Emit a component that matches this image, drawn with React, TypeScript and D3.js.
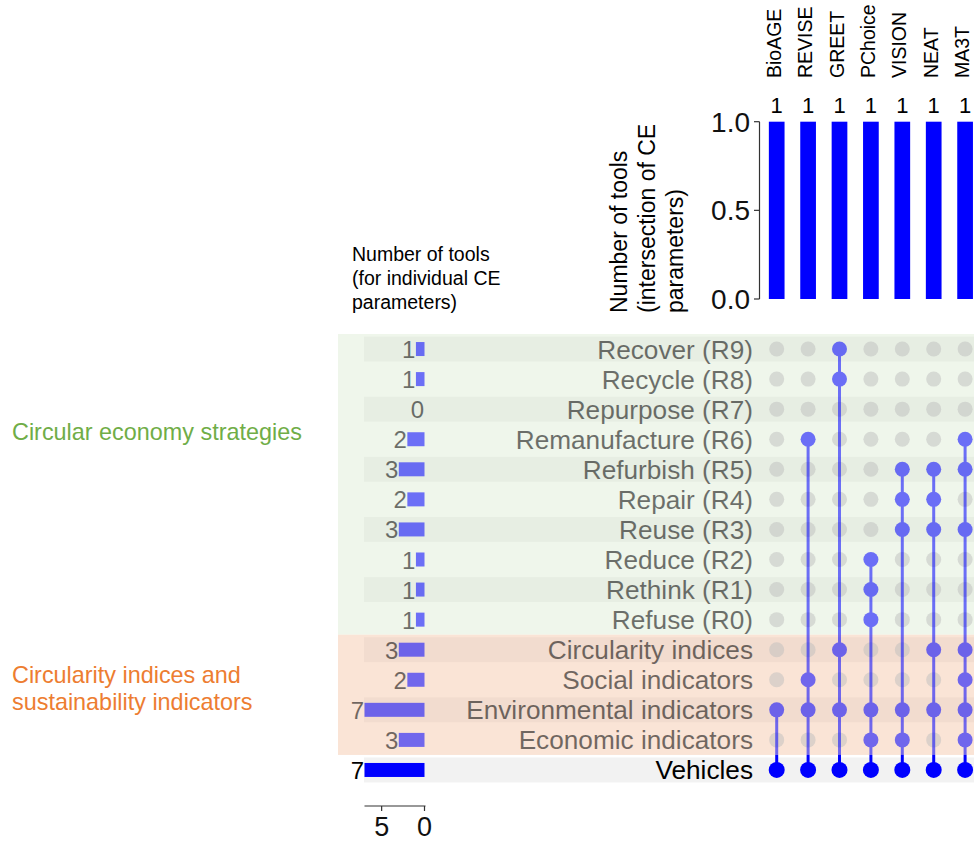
import React from 'react';
import * as d3 from 'd3';

// Tools (intersections) and their sizes
const tools = ['BioAGE', 'REVISE', 'GREET', 'PChoice', 'VISION', 'NEAT', 'MA3T'];
const toolCounts = [1, 1, 1, 1, 1, 1, 1];

// CE parameters, grouped
const strategyParams = [
  'Recover (R9)', 'Recycle (R8)', 'Repurpose (R7)', 'Remanufacture (R6)', 'Refurbish (R5)',
  'Repair (R4)', 'Reuse (R3)', 'Reduce (R2)', 'Rethink (R1)', 'Refuse (R0)',
];
const indicatorParams = ['Circularity indices', 'Social indicators', 'Environmental indicators', 'Economic indicators'];
const baseParam = 'Vehicles';
const parameters = [...strategyParams, ...indicatorParams, baseParam];

// Number of tools covering each individual parameter
const parameterTotals = [1, 1, 0, 2, 3, 2, 3, 1, 1, 1, 3, 2, 7, 3, 7];

// Parameters covered by each tool
const toolMembers: string[][] = [
  ['Environmental indicators', 'Vehicles'],
  ['Remanufacture (R6)', 'Social indicators', 'Environmental indicators', 'Vehicles'],
  ['Recover (R9)', 'Recycle (R8)', 'Circularity indices', 'Environmental indicators', 'Vehicles'],
  ['Reduce (R2)', 'Rethink (R1)', 'Refuse (R0)', 'Environmental indicators', 'Economic indicators', 'Vehicles'],
  ['Refurbish (R5)', 'Repair (R4)', 'Reuse (R3)', 'Environmental indicators', 'Economic indicators', 'Vehicles'],
  ['Refurbish (R5)', 'Repair (R4)', 'Reuse (R3)', 'Circularity indices', 'Environmental indicators', 'Vehicles'],
  ['Remanufacture (R6)', 'Refurbish (R5)', 'Reuse (R3)', 'Circularity indices', 'Social indicators',
    'Environmental indicators', 'Economic indicators', 'Vehicles'],
];

const topTicks = [0, 0.5, 1.0];
const sideTicks = [5, 0];

const FONT = '"Liberation Sans", Arial, Helvetica, sans-serif';
const W = 974;
const H = 843;

export default function App() {
  const y = d3.scaleBand<string>().domain(parameters).range([334, 785]).padding(0);
  const yc = (p: string) => (y(p) as number) + y.bandwidth() / 2;
  const step = y.step();

  const x = d3.scaleBand<string>().domain(tools).range([761, 761 + 7 * 31.4]).padding(0);
  const xc = (t: string) => (x(t) as number) + x.bandwidth() / 2;

  const yTop = d3.scaleLinear().domain([0, 1]).range([299, 121.7]);
  const xSide = d3.scaleLinear().domain([0, 7]).range([424.5, 364.5]);

  const greenTop = y(strategyParams[0]) as number;
  const greenBottom = (y(strategyParams[strategyParams.length - 1]) as number) + step;
  const orangeTop = y(indicatorParams[0]) as number;
  const orangeBottom = (y(indicatorParams[indicatorParams.length - 1]) as number) + step;
  const baseTop = y(baseParam) as number;

  const barW = x.bandwidth() * 0.5;
  const sideBarH = 14;
  const dotR = 7.5;

  const isBase = (p: string) => p === baseParam;

  return (
    <svg width={W} height={H} style={{ position: 'absolute', left: 0, top: 0, fontFamily: FONT }}>
      <rect x={0} y={0} width={W} height={H} fill="#ffffff" />

      {/* group backgrounds */}
      <rect x={338} y={greenTop} width={W - 338} height={greenBottom - greenTop} fill="#eff6eb" />
      <rect x={338} y={orangeTop} width={W - 338} height={orangeBottom - orangeTop} fill="#fae4d6" />

      {/* alternating row shading */}
      {parameters.map((p, i) =>
        i % 2 === 0 ? (
          <rect key={'s' + p} x={364} y={yc(p) - 12.5} width={W - 364} height={25} fill="#000"
            opacity={isBase(p) ? 0.05 : 0.03} />
        ) : null
      )}

      {/* group titles */}
      <text x={12} y={440} fontSize={23.4} fill="#70ad47">Circular economy strategies</text>
      <text x={12} y={683} fontSize={23.4} fill="#ed7d31">Circularity indices and</text>
      <text x={12} y={710} fontSize={23.4} fill="#ed7d31">sustainability indicators</text>

      {/* side bar chart title */}
      <g fontSize={19.5} fill="#000">
        <text x={352} y={261}>Number of tools</text>
        <text x={352} y={285}>(for individual CE</text>
        <text x={352} y={309}>parameters)</text>
      </g>

      {/* side bars */}
      {parameters.map((p, i) => {
        const v = parameterTotals[i];
        const x0 = xSide(v);
        return (
          <g key={'b' + p}>
            <rect x={x0} y={yc(p) - sideBarH / 2} width={xSide(0) - x0} height={sideBarH}
              fill="#0000ff" opacity={isBase(p) ? 1 : 0.55} />
            <text x={x0 - 0.5} y={yc(p) + 9} fontSize={24} textAnchor="end"
              fill="#000" opacity={isBase(p) ? 1 : 0.55}>{v}</text>
          </g>
        );
      })}

      {/* side axis */}
      <g stroke="#333" strokeWidth={1.2} fill="none">
        <line x1={xSide(7)} x2={xSide(0) + 1} y1={806} y2={806} />
        {sideTicks.map((t) => (
          <line key={'st' + t} x1={xSide(t)} x2={xSide(t)} y1={806} y2={811} />
        ))}
      </g>
      {sideTicks.map((t) => (
        <text key={'sl' + t} x={xSide(t)} y={836} fontSize={27} textAnchor="middle" fill="#111">{t}</text>
      ))}

      {/* row labels */}
      {parameters.map((p) => (
        <text key={'l' + p} x={753} y={yc(p) + 9.5} fontSize={26.2} textAnchor="end"
          fill="#000" opacity={isBase(p) ? 1 : 0.55}>{p}</text>
      ))}

      {/* inactive dots */}
      {tools.map((t, ti) =>
        parameters.map((p) =>
          toolMembers[ti].includes(p) ? null : (
            <circle key={'i' + t + p} cx={xc(t)} cy={yc(p)} r={dotR} fill="#bdbdbd" opacity={0.5} />
          )
        )
      )}

      {/* active dots and connectors (translucent part) */}
      <g opacity={0.55}>
        {tools.map((t, ti) => {
          const members = toolMembers[ti];
          const ys = members.map(yc);
          const top = d3.min(ys) as number;
          return (
            <g key={'a' + t}>
              <line x1={xc(t)} x2={xc(t)} y1={top} y2={baseTop} stroke="#0000ff" strokeWidth={3} />
              {members.filter((p) => !isBase(p)).map((p) => (
                <circle key={p} cx={xc(t)} cy={yc(p)} r={dotR} fill="#0000ff" />
              ))}
            </g>
          );
        })}
      </g>

      {/* base row dots */}
      {tools.map((t, ti) => (
        <g key={'v' + t}>
          <line x1={xc(t)} x2={xc(t)} y1={baseTop} y2={yc(baseParam)} stroke="#0000ff" strokeWidth={3} />
          {toolMembers[ti].includes(baseParam) ? (
            <circle cx={xc(t)} cy={yc(baseParam)} r={8} fill="#0000ff" />
          ) : null}
        </g>
      ))}

      {/* intersection bars */}
      {tools.map((t, i) => (
        <g key={'tb' + t}>
          <rect x={xc(t) - barW / 2} y={yTop(toolCounts[i])} width={barW} height={yTop(0) - yTop(toolCounts[i])}
            fill="#0000ff" />
          <text x={xc(t)} y={113} fontSize={22} textAnchor="middle" fill="#000">{toolCounts[i]}</text>
          <text transform={`translate(${xc(t) + 4},78) rotate(-90)`} fontSize={19.5} fill="#000">{t}</text>
        </g>
      ))}

      {/* intersection axis */}
      <g stroke="#333" strokeWidth={1.2}>
        <line x1={759.5} x2={759.5} y1={yTop(1)} y2={yTop(0)} />
        {topTicks.map((t) => (
          <line key={'tt' + t} x1={754} x2={759.5} y1={yTop(t)} y2={yTop(t)} />
        ))}
      </g>
      {topTicks.map((t) => (
        <text key={'tl' + t} x={750} y={yTop(t) + 10} fontSize={28} textAnchor="end" fill="#111">
          {d3.format('.1f')(t)}
        </text>
      ))}

      {/* intersection axis title */}
      <g fontSize={23} fill="#000">
        <text transform="translate(626.5,313) rotate(-90)">Number of tools</text>
        <text transform="translate(654.5,313) rotate(-90)">(intersection of CE</text>
        <text transform="translate(682.5,313) rotate(-90)">parameters)</text>
      </g>
    </svg>
  );
}
